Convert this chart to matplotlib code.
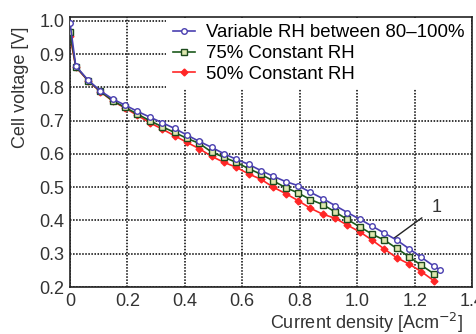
import matplotlib
matplotlib.use("Agg")
import matplotlib.pyplot as plt

plt.rcParams['font.family'] = ['Liberation Sans', 'DejaVu Sans']

current = [0, 0.02, 0.063, 0.106, 0.149, 0.192, 0.235, 0.278, 0.321, 0.364, 0.407,
           0.45, 0.493, 0.536, 0.579, 0.622, 0.665, 0.708, 0.751, 0.794, 0.837,
           0.88, 0.923, 0.966, 1.009, 1.052, 1.095, 1.138, 1.181, 1.224, 1.267]
current_vrh = current + [1.29]

v_vrh = [0.995, 0.865, 0.822, 0.79, 0.765, 0.747, 0.728, 0.711, 0.694, 0.677, 0.657,
         0.638, 0.62, 0.601, 0.584, 0.569, 0.55, 0.533, 0.517, 0.505, 0.485,
         0.466, 0.445, 0.424, 0.404, 0.383, 0.362, 0.341, 0.315, 0.289, 0.263, 0.251]
v_75 = [0.967, 0.863, 0.821, 0.788, 0.76, 0.74, 0.72, 0.70, 0.682, 0.665, 0.647,
        0.632, 0.606, 0.59, 0.575, 0.556, 0.539, 0.519, 0.499, 0.483, 0.463,
        0.448, 0.426, 0.403, 0.381, 0.359, 0.341, 0.316, 0.291, 0.265, 0.24]
v_50 = [0.955, 0.862, 0.82, 0.787, 0.759, 0.738, 0.716, 0.694, 0.675, 0.655, 0.635,
        0.616, 0.593, 0.575, 0.56, 0.54, 0.524, 0.5, 0.481, 0.46, 0.437,
        0.419, 0.407, 0.386, 0.366, 0.341, 0.314, 0.288, 0.269, 0.246, 0.219]

labels = ['Variable RH between 80\u2013100%', '75% Constant RH', '50% Constant RH']
xticks = [0, 0.2, 0.4, 0.6, 0.8, 1.0, 1.2, 1.4]
xticklabels = ['0', '0.2', '0.4', '0.6', '0.8', '1.0', '1.2', '1.4']
yticks = [0.2, 0.3, 0.4, 0.5, 0.6, 0.7, 0.8, 0.9, 1.0]

fig = plt.figure(figsize=(4.77, 3.34), dpi=100)
ax = fig.add_axes([70/477, 1-287/334, 402/477, 270/334])

ax.plot(current_vrh, v_vrh, color='#4a3fb0', lw=1.2, marker='o', ms=4,
        mfc='white', mec='#4a3fb0', mew=1.0, label=labels[0], zorder=4)
ax.plot(current, v_75, color='#1d5a1d', lw=1.2, marker='s', ms=4.5,
        mfc='#dfe8b0', mec='#1d4a1d', mew=1.0, label=labels[1], zorder=3)
ax.plot(current, v_50, color='#ff2626', lw=1.2, marker='D', ms=3.5,
        mfc='#ff2626', mec='#ff2626', label=labels[2], zorder=2)

ax.set_xlim(0, 1.4)
ax.set_ylim(0.2, 1.012)
ax.set_xticks(xticks)
ax.set_xticklabels(xticklabels)
ax.set_yticks(yticks)
ax.set_yticklabels([f'{t:.1f}' for t in yticks])
ax.tick_params(length=0, labelsize=13, colors='#333333', pad=4)
ax.grid(True, color='black', ls=(0, (1, 1)), lw=1.1)
for s in ax.spines.values():
    s.set_color('#222222')
    s.set_linewidth(1.2)

ax.annotate('1', xy=(1.127, 0.346), xytext=(1.276, 0.44), fontsize=13,
            color='#333333', ha='center', va='center',
            arrowprops=dict(arrowstyle='-', color='#222222', lw=1.0,
                            shrinkA=6, shrinkB=0))

ax.set_xlabel(r'Current density [Acm$^{-2}$]', fontsize=13, color='#333333',
              ha='right', va='bottom')
ax.xaxis.set_label_coords(393/402, -48/270)
ax.set_ylabel('Cell voltage [V]', fontsize=13, color='#333333', va='center')
ax.yaxis.set_label_coords(-50/402, 200/270)

leg = ax.legend(loc='upper right', fontsize=13.4, frameon=True, facecolor='white',
                edgecolor='none', framealpha=1, fancybox=False,
                handlelength=1.2, handletextpad=0.6, labelspacing=0.2,
                borderpad=0.35, borderaxespad=0.05)
leg.set_zorder(5)

fig.savefig('out.png', dpi=100)
